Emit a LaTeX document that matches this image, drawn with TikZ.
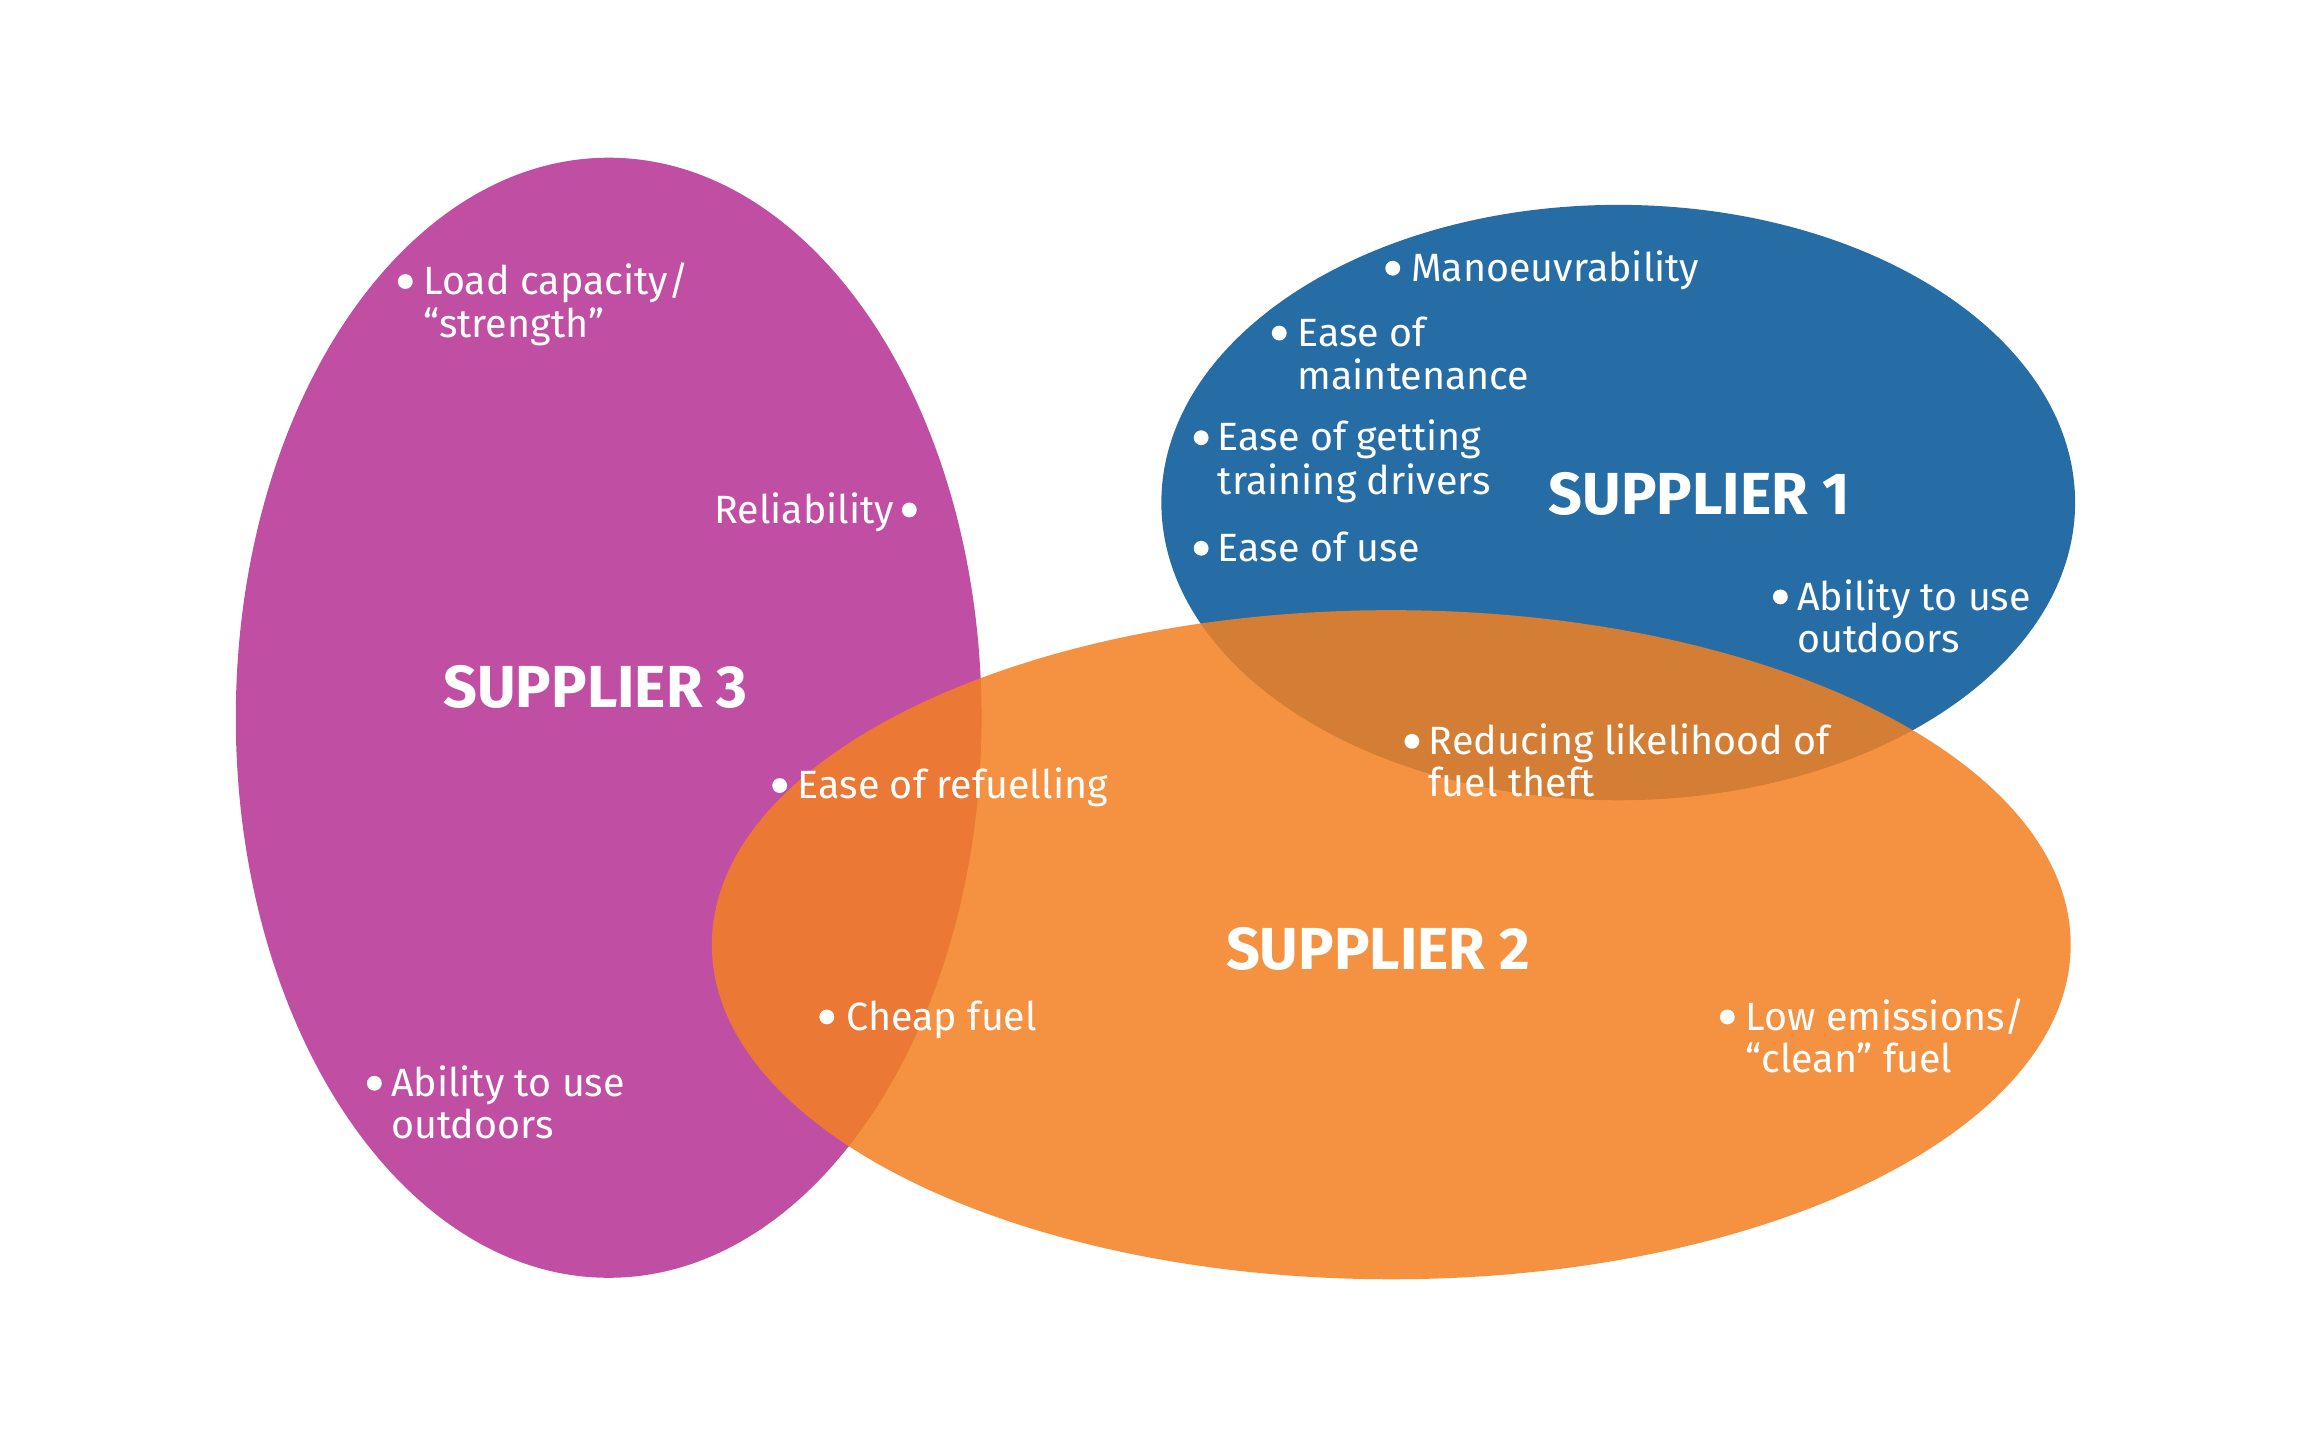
\documentclass[tikz,border=0pt]{standalone}
\usepackage{fontspec}
\setmainfont{Fira Sans}
\definecolor{sthree}{RGB}{192,79,163}
\definecolor{sone}{RGB}{38,109,166}
\definecolor{stwo}{RGB}{243,128,33}
\tikzset{
  itemtext/.style={inner sep=0pt, text=white, font=\fontsize{13.3}{14.25}\selectfont},
  dotmark/.style={circle, fill=white, inner sep=0pt, minimum size=5pt},
  suplabel/.style={inner sep=0pt, text=white, font=\fontsize{20}{24}\selectfont\bfseries},
}
\newcommand{\twol}[2]{\begin{tabular}[t]{@{}l@{}}#1\\#2\end{tabular}}
\begin{document}
\begin{tikzpicture}[x=0.5pt,y=-0.5pt]
\useasboundingbox (0,0) rectangle (1560,970);
\fill[white] (0,0) rectangle (1560,970);
\begin{scope}[scale=0.994]
% ellipses
\fill[sthree] (413,487) ellipse [x radius=253, y radius=380];
\fill[sone] (1098,341) ellipse [x radius=310, y radius=202];
\fill[stwo, fill opacity=0.85] (944,641) ellipse [x radius=461, y radius=227];
% supplier labels
\node[suplabel] (s3) at (404,466) {SUPPLIER 3};
\node[suplabel] (s1) at (1153,335) {SUPPLIER 1};
\node[suplabel] (s2) at (935,644) {SUPPLIER 2};
% supplier 3 items
\node[itemtext, anchor=base west] (t1) at (287,200) {\twol{Load capacity/}{“strength”}};
\node[dotmark] (b1) at (275,191) {};
\node[itemtext, anchor=base east] (t2) at (607,355) {Reliability};
\node[dotmark] (b2) at (617,346) {};
\node[itemtext, anchor=base west] (t3) at (541,542) {Ease of refuelling};
\node[dotmark] (b3) at (529,533) {};
\node[itemtext, anchor=base west] (t4) at (574,699) {Cheap fuel};
\node[dotmark] (b4) at (561,690) {};
\node[itemtext, anchor=base west] (t5) at (265,744) {\twol{Ability to use}{outdoors}};
\node[dotmark] (b5) at (254,735) {};
% supplier 1 items
\node[itemtext, anchor=base west] (t6) at (957,191) {Manoeuvrability};
\node[dotmark] (b6) at (945,182) {};
\node[itemtext, anchor=base west] (t7) at (880,235) {\twol{Ease of}{maintenance}};
\node[dotmark] (b7) at (868,226) {};
\node[itemtext, anchor=base west] (t8) at (826,306) {\twol{Ease of getting}{training drivers}};
\node[dotmark] (b8) at (815,297) {};
\node[itemtext, anchor=base west] (t9) at (826,381) {Ease of use};
\node[dotmark] (b9) at (815,372) {};
\node[itemtext, anchor=base west] (t10) at (1219,414) {\twol{Ability to use}{outdoors}};
\node[dotmark] (b10) at (1208,405) {};
% supplier 2 items
\node[itemtext, anchor=base west] (t11) at (969,512) {\twol{Reducing likelihood of}{fuel theft}};
\node[dotmark] (b11) at (958,503) {};
\node[itemtext, anchor=base west] (t12) at (1184,699) {\twol{Low emissions/}{“clean” fuel}};
\node[dotmark] (b12) at (1172,690) {};
\end{scope}
\end{tikzpicture}
\end{document}
